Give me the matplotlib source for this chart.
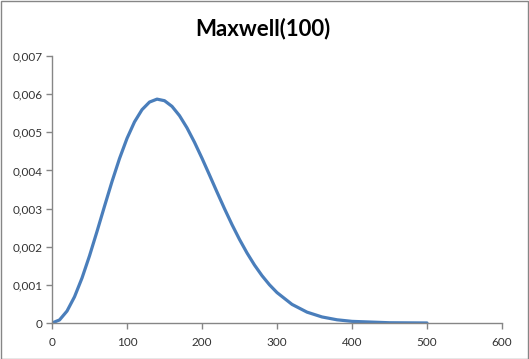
import matplotlib
matplotlib.use("Agg")
import matplotlib.pyplot as plt
from matplotlib.patches import Rectangle
from matplotlib.ticker import FuncFormatter

x_vals = [0, 10, 20, 30, 40, 50, 60, 70, 80, 90, 100, 110, 120, 130, 140, 150,
          160, 170, 180, 190, 200, 210, 220, 230, 240, 250, 260, 270, 280, 290,
          300, 320, 340, 360, 380, 400, 450, 500]
y_vals = [0.0, 0.0000794, 0.0003128, 0.0006865, 0.0011785, 0.0017603, 0.0023993,
          0.0030601, 0.0037079, 0.0043107, 0.0048394, 0.0052722, 0.0055925,
          0.0057923, 0.0058693, 0.0058282, 0.0056792, 0.0054359, 0.0051159,
          0.0047373, 0.0043193, 0.0038793, 0.0034338, 0.0029968, 0.0025796,
          0.0021912, 0.0018365, 0.0015193, 0.0012411, 0.0010012, 0.0007977,
          0.0004883, 0.0002848, 0.0001586, 0.0000842, 0.0000428, 0.0000065,
          0.0000007]
title = "Maxwell(100)"
x_ticks = [0, 100, 200, 300, 400, 500, 600]
y_ticks = [0, 0.001, 0.002, 0.003, 0.004, 0.005, 0.006, 0.007]

fig = plt.figure(figsize=(5.29, 3.59), dpi=100)
fig.patches.append(Rectangle((0.5/529, 0.5/359), 1 - 1.5/529, 1 - 1.5/359,
                             transform=fig.transFigure, fill=False,
                             edgecolor="#868686", linewidth=1.0))
ax = fig.add_axes([52/529, 36/359, 450/529, 267/359])
ax.plot(x_vals, y_vals, color="#4A7EBB", linewidth=2.3,
        solid_capstyle="round", solid_joinstyle="round")
ax.set_xlim(0, 600)
ax.set_ylim(0, 0.007)
ax.set_xticks(x_ticks)
ax.set_yticks(y_ticks)

def yfmt(v, pos):
    if v == 0:
        return "0"
    return f"{v:.3f}".replace(".", ",")

ax.yaxis.set_major_formatter(FuncFormatter(yfmt))
for s in ["top", "right"]:
    ax.spines[s].set_visible(False)
for s in ["left", "bottom"]:
    ax.spines[s].set_color("#868686")
    ax.spines[s].set_linewidth(1.0)
ax.tick_params(axis="both", direction="out", length=4, width=1.0,
               color="#868686", labelsize=8.5, labelcolor="#333333")
ax.tick_params(axis="x", pad=6)
ax.tick_params(axis="y", pad=3)
for lab in ax.get_xticklabels() + ax.get_yticklabels():
    lab.set_family("Lato")
fig.text(263/529, 1 - 29/359, title, ha="center", va="center",
         fontsize=16, fontweight="bold", family="Lato", color="#000000")
fig.savefig("out.png", dpi=100)
